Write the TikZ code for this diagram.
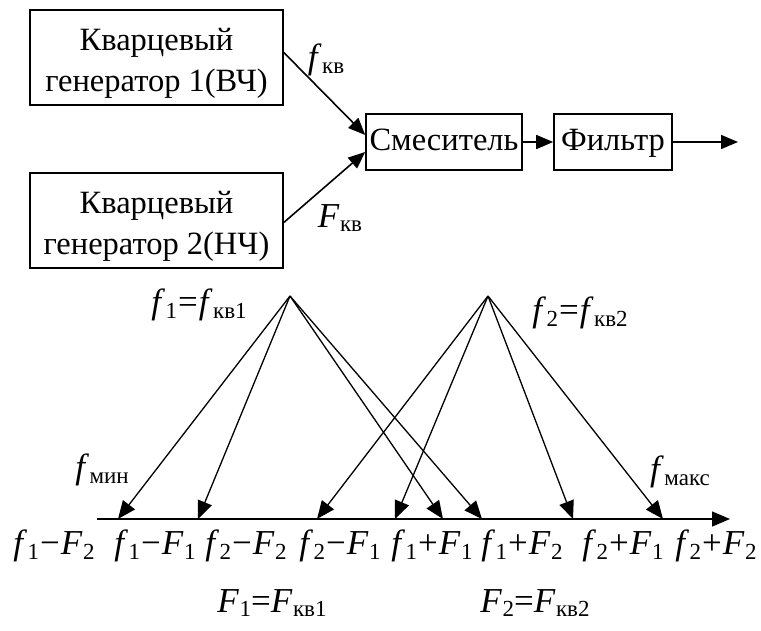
\documentclass[tikz,border=0pt]{standalone}
\usepackage{fontspec}
\setmainfont{Liberation Serif}
\usetikzlibrary{arrows.meta}
\newcommand\fsb[2]{\textit{#1}\kern0.5pt\raisebox{-0.13em}{\fontsize{23}{23}\selectfont #2}}
\newcommand\op[1]{\kern1pt#1\kern1pt}
\begin{document}
\begin{tikzpicture}[x=1pt,y=-1pt,
  font=\fontsize{32.5}{41}\selectfont,
  box/.style={draw, line width=1.6pt, inner sep=0pt, align=center},
  txt/.style={inner sep=0pt, align=center},
  arr/.style={-{Triangle[length=17pt,width=14pt]}, line width=1.6pt},
  arrb/.style={-{Triangle[length=18pt,width=15pt]}, line width=1.3pt},
  lbl/.style={inner sep=0pt, font=\fontsize{35}{40}\selectfont}]
\useasboundingbox (0,0) rectangle (761,630);
% block diagram
\node[box, minimum width=253pt, minimum height=95pt] (g1) at (156.5,57.5) {};
\node[txt] (g1t) at ([yshift=-6pt]g1.center) {Кварцевый\\генератор 1(ВЧ)};
\node[box, minimum width=253pt, minimum height=95pt] (g2) at (156.5,220.5) {};
\node[txt] (g2t) at ([yshift=-6pt]g2.center) {Кварцевый\\генератор 2(НЧ)};
\node[box, minimum width=156pt, minimum height=56pt, text height=22pt, text depth=6pt] (mix) at (444,142) {Смеситель};
\node[box, minimum width=118pt, minimum height=56pt, text height=22pt, text depth=6pt] (flt) at (613,142) {Фильтр};
\coordinate (out) at (738,142);
\draw[arr] ([yshift=5pt]g1.east) -- ([yshift=7pt]mix.west);
\draw[arr] ([yshift=-2pt]g2.east) -- ([yshift=-10pt]mix.west);
\draw[arr] (mix) -- (flt);
\draw[arr] (flt) -- (out);
\node[lbl] (lf) at (326,60) {\fsb{f}{кв}};
\node[lbl] (lF) at (340,218) {\fsb{F}{кв}};
% spectrum
\coordinate (A1) at (290,296);
\coordinate (A2) at (488,296);
\coordinate (ax0) at (97,519);
\coordinate (ax1) at (730,519);
\draw[arrb] (ax0) -- (ax1);
\foreach \n/\x in {1/118,2/198,3/317,4/395,5/443,6/482,7/573,8/663}
  \coordinate (t\n) at (\x,519);
\foreach \n in {1,2,5,6} \draw[arrb] (A1) -- (t\n);
\foreach \n in {3,4,7,8} \draw[arrb] (A2) -- (t\n);
\node[lbl] (l1) at (199,305) {\fsb{f}{1}\op{=}\fsb{f}{кв1}};
\node[lbl] (l2) at (580,313) {\fsb{f}{2}\op{=}\fsb{f}{кв2}};
\node[lbl] (lmin) at (102,470) {\fsb{f}{мин}};
\node[lbl] (lmax) at (680,472) {\fsb{f}{макс}};
\node[lbl] (b1) at (54,546) {\fsb{f}{1}\op{−}\fsb{F}{2}};
\node[lbl] (b2) at (155,546) {\fsb{f}{1}\op{−}\fsb{F}{1}};
\node[lbl] (b3) at (246,546) {\fsb{f}{2}\op{−}\fsb{F}{2}};
\node[lbl] (b4) at (340,546) {\fsb{f}{2}\op{−}\fsb{F}{1}};
\node[lbl] (b5) at (432,546) {\fsb{f}{1}\op{+}\fsb{F}{1}};
\node[lbl] (b6) at (522,546) {\fsb{f}{1}\op{+}\fsb{F}{2}};
\node[lbl] (b7) at (623,546) {\fsb{f}{2}\op{+}\fsb{F}{1}};
\node[lbl] (b8) at (716,546) {\fsb{f}{2}\op{+}\fsb{F}{2}};
\node[lbl] (e1) at (272,603) {\fsb{F}{1}=\fsb{F}{кв1}};
\node[lbl] (e2) at (535,603) {\fsb{F}{2}=\fsb{F}{кв2}};
\end{tikzpicture}
\end{document}
